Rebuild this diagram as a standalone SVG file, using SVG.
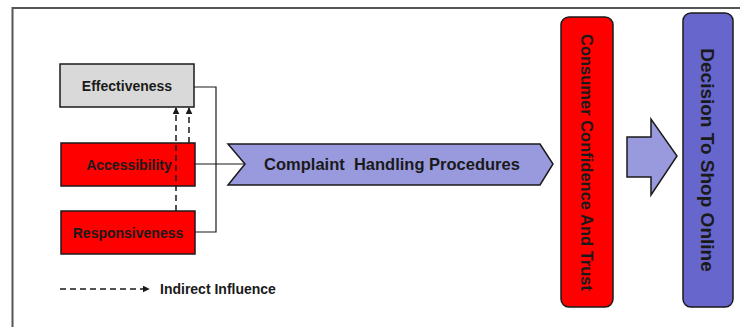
<svg xmlns="http://www.w3.org/2000/svg" width="740" height="327" viewBox="0 0 740 327">
<defs>
<style>
.t{font-family:"Liberation Sans",Arial,sans-serif;font-weight:bold;fill:#1a1a1a}
.box{stroke:#1a1a1a;stroke-width:1.5}
.line{stroke:#1a1a1a;stroke-width:1.2;fill:none}
.dash{stroke:#1a1a1a;stroke-width:1.5;fill:none;stroke-dasharray:6,4}
</style>
<marker id="ah" viewBox="0 0 10 10" refX="9" refY="5" markerWidth="7" markerHeight="7" orient="auto" markerUnits="userSpaceOnUse">
<path d="M0,0 L10,5 L0,10 z" fill="#1a1a1a"/>
</marker>
</defs>
<rect width="740" height="327" fill="#fff"/>
<path d="M12.5,327 V8 H740" fill="none" stroke="#555" stroke-width="2"/>
<g id="effectiveness">
<rect class="box" x="60" y="64" width="134" height="43" fill="#d9d9d9"/>
<text class="t" x="127" y="91" font-size="14" text-anchor="middle">Effectiveness</text>
</g>
<g id="accessibility">
<rect class="box" x="61" y="143" width="134" height="43" fill="#ff0000"/>
<text class="t" x="129" y="170" font-size="14" text-anchor="middle">Accessibility</text>
</g>
<g id="responsiveness">
<rect class="box" x="61" y="211" width="134" height="43" fill="#ff0000"/>
<text class="t" x="128" y="238" font-size="14" text-anchor="middle">Responsiveness</text>
</g>
<g id="complaint">
<path class="box" d="M228,144 H540 L553,164 L540,185 H228 L245,164 Z" fill="#9999dd"/>
<text class="t" x="392" y="170" font-size="16.5" text-anchor="middle" xml:space="preserve">Complaint  Handling Procedures</text>
</g>
<g id="consumer">
<rect class="box" x="561" y="17" width="52" height="290" rx="8" fill="#ff0000"/>
<text class="t" transform="translate(587,162.5) rotate(90)" x="0" y="6" font-size="16.5" text-anchor="middle">Consumer Confidence And Trust</text>
</g>
<g id="bigarrow">
<path class="box" d="M627,137 H651 V119 L677,156 L651,195 V177 H627 Z" fill="#9999dd"/>
</g>
<g id="decision">
<rect class="box" x="683" y="13" width="50" height="294" rx="8" fill="#6666cc"/>
<text class="t" transform="translate(708,160) rotate(90)" x="0" y="7" font-size="19" text-anchor="middle">Decision To Shop Online</text>
</g>
<g id="connectors">
<path class="line" d="M194,87 H216 V232 H195"/>
<path class="line" d="M195,164 H245"/>
<path class="dash" d="M176,211 V108" marker-end="url(#ah)"/>
<path class="dash" d="M189,143 V108" marker-end="url(#ah)"/>
</g>
<g id="legend">
<path class="dash" d="M60,289 H149" marker-end="url(#ah)"/>
<text class="t" x="160" y="294" font-size="14">Indirect Influence</text>
</g>
</svg>
